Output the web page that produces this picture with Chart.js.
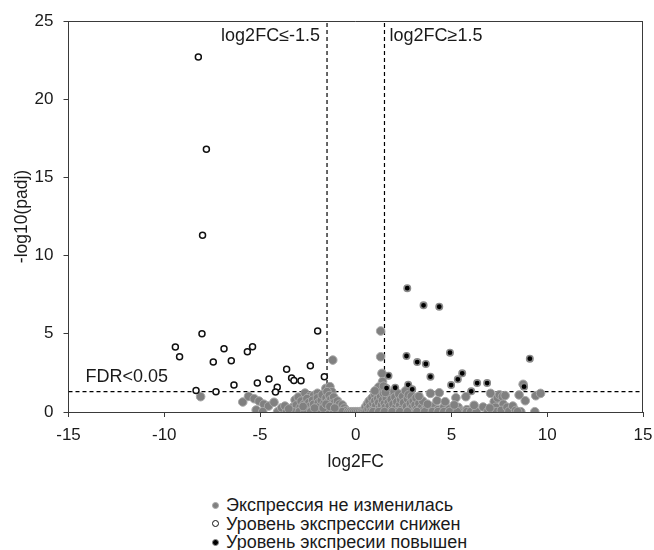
<!DOCTYPE html>
<html>
<head>
<meta charset="utf-8">
<script src="https://cdn.jsdelivr.net/npm/chart.js@4.4.1/dist/chart.umd.min.js"></script>
<style>
html,body{margin:0;padding:0;background:#fff;}
#wrap{position:relative;width:654px;height:550px;overflow:hidden;font-family:"Liberation Sans",Arial,sans-serif;}
#c{position:absolute;left:0;top:0;}
#legend{position:absolute;left:212px;top:496px;font-size:18px;line-height:18.5px;color:#1a1a1a;}
.item{display:flex;align-items:center;white-space:nowrap;height:18.5px;}
.mk{width:7px;height:7px;border-radius:50%;box-sizing:border-box;margin-right:7px;flex:none;}
</style>
</head>
<body>
<div id="wrap">
<canvas id="c" width="654" height="475"></canvas>
<div id="legend"></div>
</div>
<script>
// ---- data ----
const xTicks = [-15, -10, -5, 0, 5, 10, 15];
const yTicks = [0, 5, 10, 15, 20, 25];
const fcLow = -1.5, fcHigh = 1.5, fdrLine = 1.301;
const labels = ["Экспрессия не изменилась", "Уровень экспрессии снижен", "Уровень экспресии повышен"];
const annoTexts = ["log2FC≤-1.5", "log2FC≥1.5", "FDR<0.05"];

// down-regulated (open circles)
const downX = [-8.22,-7.8,-8.0,-8.03,-9.42,-9.2,-6.88,-7.44,-6.5,-5.66,-5.39,-1.99,-2.37,-3.61,-5.14,-4.53,-3.35,-3.23,-2.86,-4.1,-4.19,-6.36,-1.64,-8.34,-7.3];
const downY = [22.7,16.8,11.3,5.0,4.15,3.53,4.05,3.2,3.28,3.85,4.17,5.18,2.96,2.73,1.85,2.11,2.17,2.02,2.0,1.58,1.28,1.72,2.26,1.38,1.3];

// up-regulated (filled black)
const upX = [2.69,3.54,4.36,4.92,2.65,3.21,3.66,9.09,1.71,3.9,5.56,5.33,4.98,6.34,6.86,6.03,2.74,2.95,1.61,2.06,8.79];
const upY = [7.92,6.82,6.73,3.79,3.58,3.19,3.07,3.41,2.32,2.26,2.47,2.09,1.72,1.85,1.85,1.32,1.74,1.45,1.53,1.55,1.62];

// not changed (grey)
const nsX = [
 -8.1,-5.9,-5.6,-5.3,-5.05,-4.8,-4.55,-5.2,-4.86,-4.27,-4.08,-3.87,-3.7,-3.47,-3.17,-3.0,-2.65,-2.4,-2.2,-2.0,-1.56,-1.35,-1.25,-1.2,
 -3.4,-3.3,-3.2,-3.1,-3.0,-2.9,-2.85,-2.8,-2.7,-2.6,-2.55,-2.5,-2.45,-2.4,-2.3,-2.25,-2.2,-2.1,-2.05,-2.0,-1.95,-1.9,-1.85,-1.8,-1.75,-1.7,-1.65,-1.6,-1.55,-1.5,-1.5,-1.45,-1.4,-1.38,-1.3,-1.3,-1.25,-1.2,-1.15,-1.1,-1.05,-1.0,-0.95,-0.9,-0.85,-0.8,-0.75,-0.7,-0.65,-0.6,-0.55,-0.5,
 -3.6,-3.3,-2.95,-2.65,-2.35,-2.0,-1.8,-1.35,-1.15,-0.95,-0.7,
 -3.5,-2.75,-2.15,-1.7,-1.55,-1.35,-1.1,
 -0.4,-0.3,-0.2,-0.1,0,0.1,0.2,0.3,0.38,
 0.45,0.5,0.55,0.6,0.65,0.7,0.75,0.8,0.85,0.9,0.95,1.0,1.0,1.05,1.1,1.1,1.15,1.2,1.25,1.3,1.3,1.35,1.4,1.4,1.45,1.5,1.55,1.6,1.65,1.7,1.7,1.75,1.8,1.85,1.9,1.95,2.0,2.05,2.1,2.15,2.2,2.25,2.3,2.35,2.4,2.45,2.5,2.55,2.6,2.65,2.7,2.75,2.8,2.85,2.9,2.95,3.0,3.05,3.1,3.15,3.2,3.3,3.35,3.45,3.55,3.7,3.85,4.0,4.15,4.3,4.45,4.6,4.75,4.9,5.05,5.2,5.35,5.5,5.65,5.8,5.95,6.1,6.25,
 0.9,1.2,1.5,1.9,2.3,2.7,3.2,3.6,4.0,4.3,4.6,4.9,5.3,5.8,6.0,6.3,
 1.3,1.3,1.37,1.4,1.2,1.45,1.55,1.0,
 3.9,4.36,4.24,4.67,5.23,5.75,5.14,6.18,6.65,3.5,3.3,3.75,
 7.04,7.23,7.4,7.5,7.66,7.7,7.8,7.3,7.1,7.35,7.6,7.9,8.0,8.2,8.35,8.53,8.74,8.85,8.62,8.45,9.4,9.65,9.35,6.9,7.0
];
const nsY = [
 0.98,0.64,1.0,0.85,0.7,0.5,0.38,0.13,0.02,0.62,0.02,0.27,0.38,0.1,0.77,0.95,1.21,1.0,1.05,1.2,1.51,1.62,1.3,3.32,
 0.05,0.3,0.15,0.45,0.05,0.3,0.7,0.1,0.5,0.25,0.85,0.05,0.6,0.35,0.15,0.75,0.5,0.05,0.3,0.9,0.6,0.15,0.4,0.75,1.1,0.05,0.55,0.3,0.9,1.3,0.1,0.65,0.4,1.05,0.8,0.15,0.55,0.3,0.95,0.6,0.1,0.4,0.7,0.25,0.5,0.05,0.3,0.45,0.15,0.25,0.05,0.1,
 0.02,0.02,0.02,0.02,0.02,0.02,0.02,0.02,0.02,0.02,0.02,
 0.2,0.35,0.25,0.25,0.5,0.35,0.25,
 0.02,0.02,0.02,0.02,0.02,0.02,0.02,0.03,0.05,
 0.1,0.3,0.05,0.5,0.2,0.7,0.35,0.05,0.9,0.55,0.2,1.1,0.7,0.4,0.05,1.3,0.85,0.6,0.25,1.5,1.0,0.45,0.75,0.1,1.2,0.55,0.3,0.9,1.25,0.05,0.6,0.35,1.1,0.8,0.15,0.5,1.3,0.95,0.3,0.65,0.05,1.15,0.45,0.8,0.2,1.0,0.6,0.05,1.35,0.35,0.85,1.1,0.15,0.55,1.0,0.3,0.7,0.05,0.45,0.9,0.2,0.55,0.05,0.3,0.1,0.3,0.05,0.35,0.05,0.15,0.02,0.3,0.05,0.2,0.02,0.1,0.3,0.05,0.02,0.15,0.02,0.1,0.02,
 0.02,0.02,0.02,0.02,0.02,0.02,0.02,0.02,0.02,0.02,0.02,0.02,0.02,0.02,0.02,0.02,
 5.18,3.53,2.47,1.94,1.6,1.65,1.25,1.35,
 1.19,1.23,0.72,0.66,0.91,0.98,0.45,0.43,0.32,0.7,1.0,0.5,
 1.19,0.66,0.9,1.1,0.98,0.5,1.05,0.3,0.05,0.02,0.1,0.3,0.05,0.38,0.1,1.09,1.77,0.72,0.02,0.02,1.04,1.19,0.02,0.05,0.25
];

// ---- build ----
const pts = (xs, ys) => xs.map((x, i) => ({x: x, y: ys[i]}));
const FONT = '"Liberation Sans", Arial, sans-serif';
const TXT = '#1a1a1a';
const AX = '#3a3a3a';

const styles = [
  {bg: '#808080', bd: '#a8a8a8', bw: 1, r: 4.3},
  {bg: '#ffffff', bd: '#111111', bw: 1.5, r: 3},
  {bg: '#000000', bd: '#8a8a8a', bw: 1.6, r: 3.2}
];

const lineDs = (data) => ({
  type: 'line', data: data, borderColor: '#000', borderWidth: 1.2,
  borderDash: [4, 3], pointRadius: 0, fill: false, order: 5
});

const datasets = [
  {label: labels[2], data: pts(upX, upY), backgroundColor: styles[2].bg, borderColor: styles[2].bd, borderWidth: styles[2].bw, pointRadius: styles[2].r, order: 0},
  {label: labels[1], data: pts(downX, downY), backgroundColor: styles[1].bg, borderColor: styles[1].bd, borderWidth: styles[1].bw, pointRadius: styles[1].r, order: 1},
  {label: labels[0], data: pts(nsX, nsY), backgroundColor: styles[0].bg, borderColor: styles[0].bd, borderWidth: styles[0].bw, pointRadius: styles[0].r, order: 2},
  lineDs([{x: fcLow, y: 0}, {x: fcLow, y: 25}]),
  lineDs([{x: fcHigh, y: 0}, {x: fcHigh, y: 25}]),
  lineDs([{x: -15, y: fdrLine}, {x: 15, y: fdrLine}])
];

const framePlugin = {
  id: 'frame',
  afterDatasetsDraw(chart) {
    const {ctx, chartArea: a} = chart;
    ctx.save();
    ctx.strokeStyle = AX; ctx.lineWidth = 1;
    ctx.beginPath();
    ctx.moveTo(a.left, a.top + 0.5); ctx.lineTo(a.right, a.top + 0.5);
    ctx.moveTo(a.right - 0.5, a.top); ctx.lineTo(a.right - 0.5, a.bottom);
    ctx.stroke();
    ctx.restore();
  }
};

const annoPlugin = {
  id: 'anno',
  afterDraw(chart) {
    const {ctx, chartArea: a} = chart;
    const xs = chart.scales.x, ys = chart.scales.y;
    ctx.save();
    ctx.fillStyle = TXT;
    ctx.font = '18px ' + FONT;
    ctx.textBaseline = 'middle';
    ctx.textAlign = 'right';
    ctx.fillText(annoTexts[0], xs.getPixelForValue(fcLow) - 7, a.top + 15);
    ctx.textAlign = 'left';
    ctx.fillText(annoTexts[1], xs.getPixelForValue(fcHigh) + 5, a.top + 15);
    ctx.fillText(annoTexts[2], a.left + 17, ys.getPixelForValue(fdrLine) - 15);
    ctx.restore();
  }
};

new Chart(document.getElementById('c'), {
  type: 'scatter',
  data: {datasets: datasets},
  options: {
    responsive: false,
    animation: false,
    layout: {padding: {top: 21, right: 0, left: 0, bottom: 0}},
    plugins: {legend: {display: false}, tooltip: {enabled: false}},
    elements: {point: {hoverRadius: 0}},
    scales: {
      x: {
        type: 'linear', min: -15, max: 15,
        afterBuildTicks: (s) => { s.ticks = xTicks.map(v => ({value: v})); },
        afterFit: (s) => { s.height = 63; s.paddingRight = 11; s.paddingLeft = 0; },
        ticks: {color: TXT, font: {family: FONT, size: 17}, padding: 8, maxRotation: 0},
        grid: {display: true, drawOnChartArea: false, drawTicks: true, tickLength: 5, color: AX},
        border: {display: true, color: AX, width: 1},
        title: {display: true, text: 'log2FC', color: TXT, font: {family: FONT, size: 17.5}, padding: {top: 0, bottom: 2}}
      },
      y: {
        type: 'linear', min: 0, max: 25,
        afterBuildTicks: (s) => { s.ticks = yTicks.map(v => ({value: v})); },
        afterFit: (s) => { s.width = 68.5; },
        ticks: {color: TXT, font: {family: FONT, size: 17}, padding: 10},
        grid: {display: true, drawOnChartArea: false, drawTicks: true, tickLength: 5, color: AX},
        border: {display: true, color: AX, width: 1},
        title: {display: true, text: '-log10(padj)', color: TXT, font: {family: FONT, size: 17.5}, padding: {top: 12, bottom: 0}}
      }
    }
  },
  plugins: [framePlugin, annoPlugin]
});

// HTML legend (order: grey, open, filled)
const leg = document.getElementById('legend');
[0, 1, 2].forEach(i => {
  const it = document.createElement('div'); it.className = 'item';
  const mk = document.createElement('span'); mk.className = 'mk';
  mk.style.background = styles[i].bg;
  mk.style.border = (i === 1 ? '1.3px solid ' : '1.2px solid ') + styles[i].bd;
  const tx = document.createElement('span'); tx.textContent = labels[i];
  it.appendChild(mk); it.appendChild(tx); leg.appendChild(it);
});
</script>
</body>
</html>
